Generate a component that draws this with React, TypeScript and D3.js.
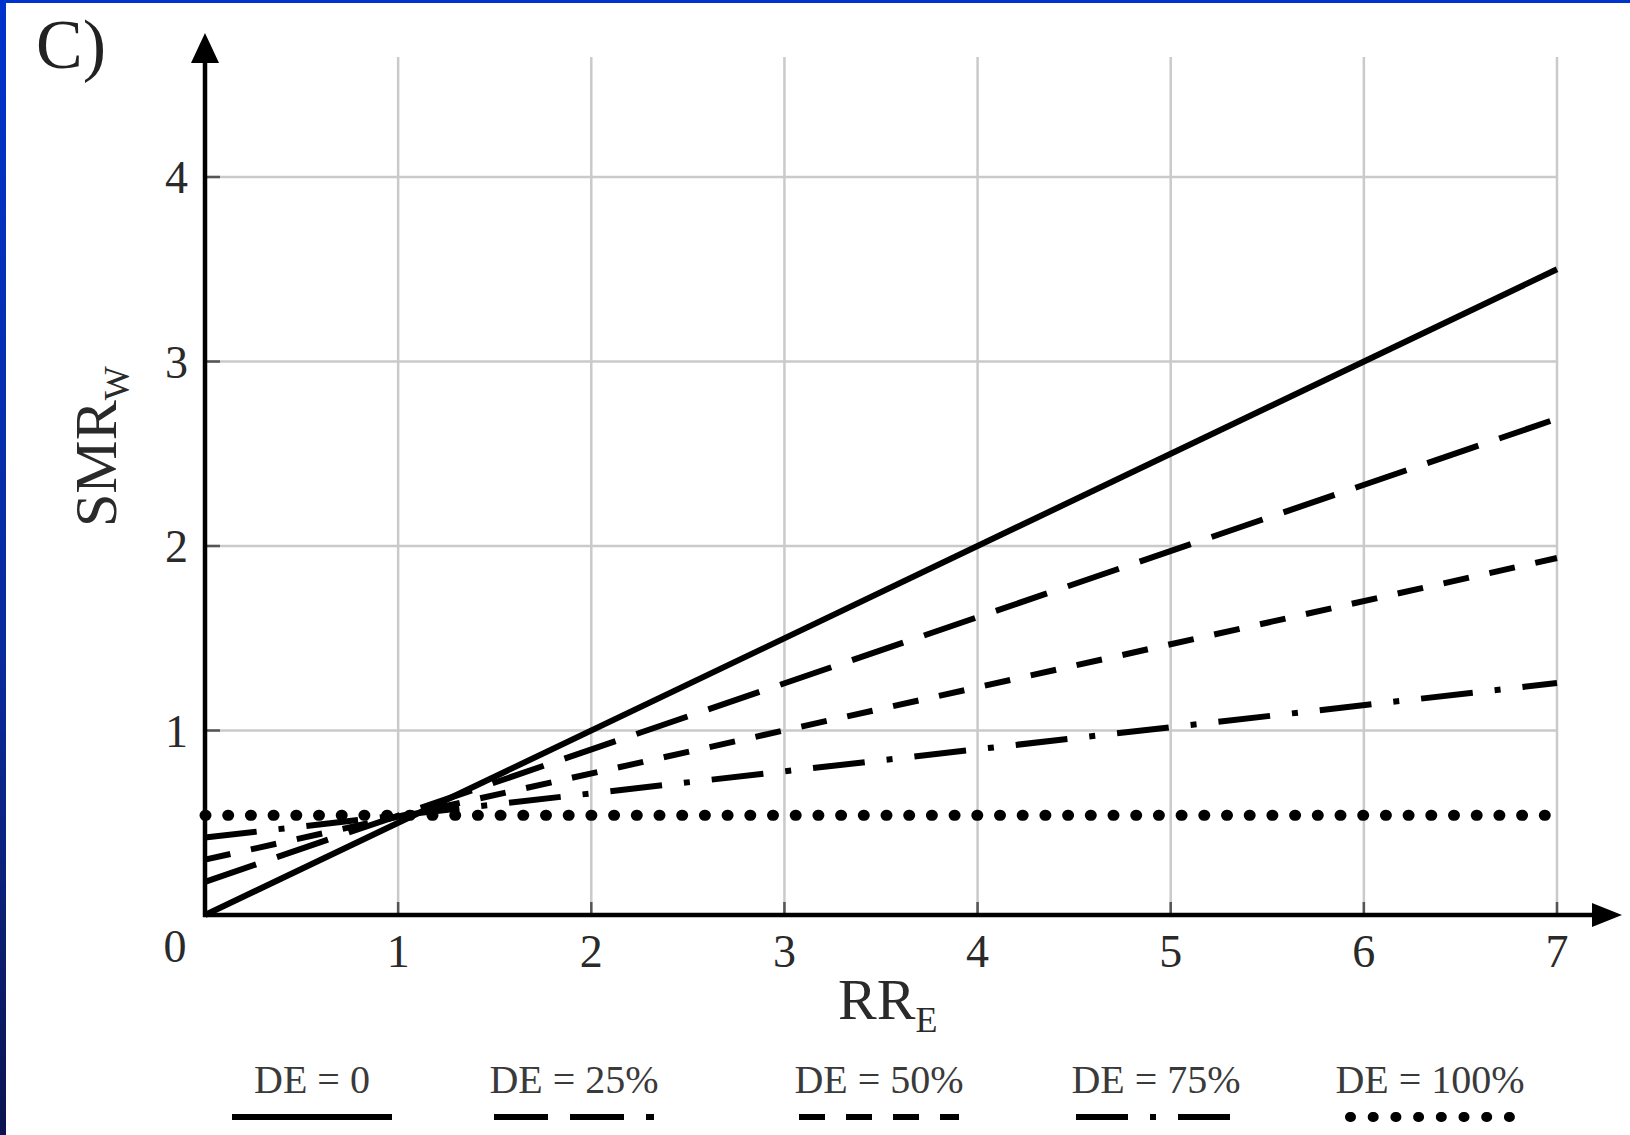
import { useEffect } from "react";
import * as d3 from "d3";

// values (each curve is a straight line, so two points each)
const rrE = [0, 7];
const smrDE0 = [0, 3.5];
const smrDE25 = [0.18, 2.69];
const smrDE50 = [0.3, 1.935];
const smrDE75 = [0.42, 1.257];
const smrDE100 = [0.54, 0.54];

const seriesNames = ["DE = 0", "DE = 25%", "DE = 50%", "DE = 75%", "DE = 100%"];
const seriesValues = [smrDE0, smrDE25, smrDE50, smrDE75, smrDE100];

const xTicks = [1, 2, 3, 4, 5, 6, 7];
const yTicks = [1, 2, 3, 4];
const xTickLabels = ["1", "2", "3", "4", "5", "6", "7"];
const yTickLabels = ["1", "2", "3", "4"];

// line styles per series
const dashes = ["none", "54 22", "26 21", "52 22 6 22", "1 21.7"];
const widths = [6, 6, 6, 6, 11];
const caps = ["butt", "butt", "butt", "butt", "round"];

// legend layout (centres of each entry, in px)
const legendCenters = [312, 574, 879, 1156, 1430];

const W = 1630;
const H = 1135;
const FONT = "'Liberation Serif', 'DejaVu Serif', serif";

export default function App() {
  useEffect(() => {
    document.body.style.margin = "0";
  }, []);

  const x = d3.scaleLinear().domain([0, 7]).range([205, 1557]);
  const y = d3.scaleLinear().domain([0, 4]).range([915, 177]);
  const gridTop = y(4.65);

  const line = d3
    .line<[number, number]>()
    .x((d) => x(d[0]))
    .y((d) => y(d[1]));

  const x0 = x(0);
  const y0 = y(0);

  return (
    <svg
      width={W}
      height={H}
      style={{ position: "absolute", left: 0, top: 0, background: "#fff" }}
    >
      <defs>
        <linearGradient id="frame" x1="0" y1="0" x2="0" y2="1">
          <stop offset="0" stopColor="#0033cc" />
          <stop offset="0.6" stopColor="#0a2a9a" />
          <stop offset="1" stopColor="#0b1450" />
        </linearGradient>
      </defs>
      <rect x={0} y={0} width={W} height={H} fill="#fff" />
      <rect x={0} y={0} width={W} height={3} fill="#0033cc" />
      <rect x={0} y={0} width={6} height={H} fill="url(#frame)" />

      {/* panel label */}
      <text x={36} y={68} fontFamily={FONT} fontSize={70} fill="#222">
        C)
      </text>

      {/* grid */}
      <g stroke="#cacaca" strokeWidth={2.5}>
        {xTicks.map((t) => (
          <line key={"gx" + t} x1={x(t)} x2={x(t)} y1={gridTop} y2={y0} />
        ))}
        {yTicks.map((t) => (
          <line key={"gy" + t} x1={x0} x2={x(7)} y1={y(t)} y2={y(t)} />
        ))}
      </g>
      <g stroke="#555" strokeWidth={2.5}>
        {xTicks.map((t) => (
          <line key={"tx" + t} x1={x(t)} x2={x(t)} y1={y0 - 13} y2={y0} />
        ))}
        {yTicks.map((t) => (
          <line key={"ty" + t} x1={x0} x2={x0 + 15} y1={y(t)} y2={y(t)} />
        ))}
      </g>

      {/* series */}
      {seriesValues.map((vals, i) => (
        <path
          key={seriesNames[i]}
          d={line(rrE.map((r, k) => [r, vals[k]] as [number, number])) || ""}
          fill="none"
          stroke="#000"
          strokeWidth={widths[i]}
          strokeDasharray={dashes[i]}
          strokeLinecap={caps[i] as any}
        />
      ))}

      {/* axes with arrows */}
      <line x1={x0} x2={x0} y1={y0 + 2} y2={50} stroke="#000" strokeWidth={4.5} />
      <path d={`M${x0},33 L${x0 - 14},63 L${x0 + 14},63 Z`} fill="#000" />
      <line x1={x0 - 2} x2={1600} y1={y0} y2={y0} stroke="#000" strokeWidth={4.5} />
      <path d={`M1622,${y0} L1592,${y0 - 12} L1592,${y0 + 12} Z`} fill="#000" />

      {/* tick labels */}
      <g fontFamily={FONT} fontSize={46} fill="#2a2a2a">
        {xTicks.map((t, i) => (
          <text key={"lx" + t} x={x(t)} y={y0 + 52} textAnchor="middle">
            {xTickLabels[i]}
          </text>
        ))}
        <text x={x0 - 30} y={y0 + 47} textAnchor="middle">
          0
        </text>
        {yTicks.map((t, i) => (
          <text
            key={"ly" + t}
            x={x0 - 17}
            y={y(t) + 16}
            textAnchor="end"
          >
            {yTickLabels[i]}
          </text>
        ))}
      </g>

      {/* axis titles */}
      <text x={838} y={1019} fontFamily={FONT} fontSize={58} fill="#2a2a2a">
        RR
        <tspan fontSize={36} dy={13}>
          E
        </tspan>
      </text>
      <text
        transform="translate(116,527) rotate(-90)"
        fontFamily={FONT}
        fontSize={60}
        fill="#2a2a2a"
      >
        SMR
        <tspan fontSize={36} dy={13}>
          W
        </tspan>
      </text>

      {/* legend */}
      {seriesNames.map((name, i) => {
        const cx = legendCenters[i];
        return (
          <g key={"leg" + name}>
            <text
              x={cx}
              y={1093}
              textAnchor="middle"
              fontFamily={FONT}
              fontSize={40}
              fill="#3a3a3a"
            >
              {name}
            </text>
            <line
              x1={cx - 80}
              x2={cx + 80}
              y1={1117}
              y2={1117}
              stroke="#000"
              strokeWidth={i === 4 ? 10 : 6}
              strokeDasharray={dashes[i]}
              strokeLinecap={caps[i] as any}
            />
          </g>
        );
      })}
    </svg>
  );
}
